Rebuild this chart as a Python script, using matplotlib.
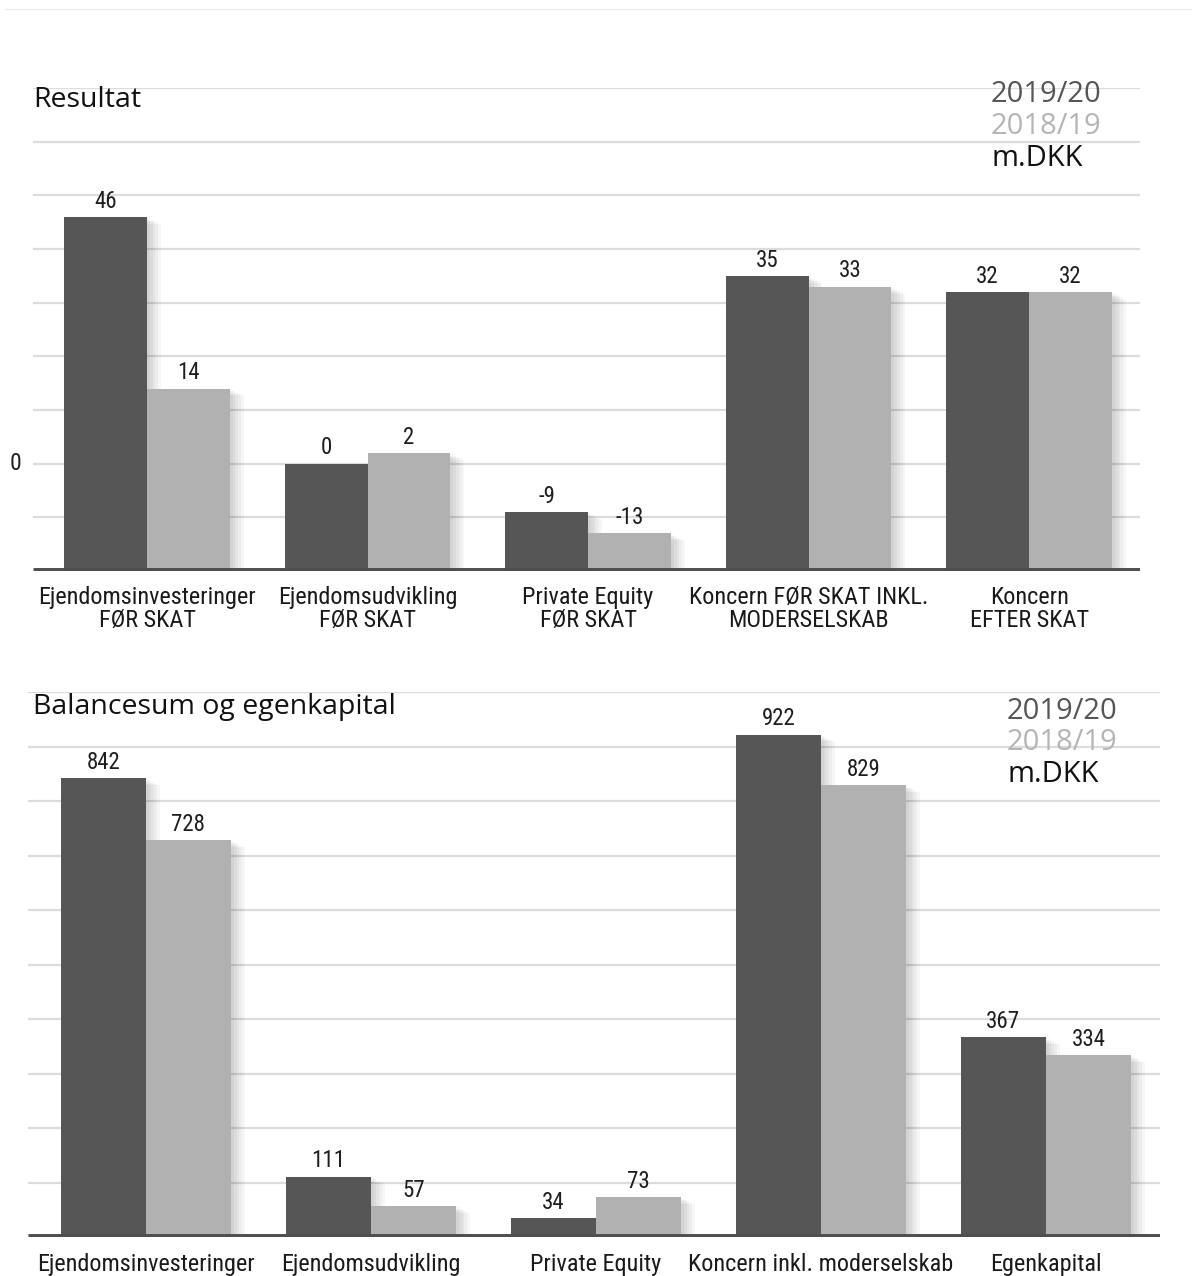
import matplotlib
matplotlib.use("Agg")
import matplotlib.pyplot as plt
from matplotlib import font_manager
import matplotlib.patheffects as pe
from matplotlib.lines import Line2D

# ---------------- data ----------------
top_title = "Resultat"
top_categories = ["Ejendomsinvesteringer\nFØR SKAT", "Ejendomsudvikling\nFØR SKAT",
                  "Private Equity\nFØR SKAT", "Koncern FØR SKAT INKL.\nMODERSELSKAB",
                  "Koncern\nEFTER SKAT"]
top_2019_20 = [46, 0, -9, 35, 32]
top_2018_19 = [14, 2, -13, 33, 32]

bottom_title = "Balancesum og egenkapital"
bottom_categories = ["Ejendomsinvesteringer", "Ejendomsudvikling", "Private Equity",
                     "Koncern inkl. moderselskab", "Egenkapital"]
bottom_2019_20 = [842, 111, 34, 922, 367]
bottom_2018_19 = [728, 57, 73, 829, 334]

legend_labels = ["2019/20", "2018/19", "m.DKK"]

# ---------------- style ----------------
DARK = "#565656"
LIGHT = "#b1b1b1"
GRID = "#dcdcdc"
BASE = "#4f4f4f"

names = {f.name for f in font_manager.fontManager.ttflist}
narrow = None
for cand in ["Roboto Condensed", "Liberation Sans Narrow", "Open Sans Condensed", "DejaVu Sans Condensed"]:
    if cand in names:
        narrow = cand
        break
if narrow is None:
    narrow = "DejaVu Sans"
title_font = "Open Sans" if "Open Sans" in names else "DejaVu Sans"

W, H = 1192, 1276
fig = plt.figure(figsize=(W / 100, H / 100), dpi=100)

def px_axes(x0, x1, ytop, ybot):
    return fig.add_axes([x0 / W, 1 - ybot / H, (x1 - x0) / W, (ybot - ytop) / H])

# thin line at top of the figure
fig.add_artist(Line2D([5 / W, 1.0], [1 - 9 / H, 1 - 9 / H], color="#ececec", lw=1))

shadow = [pe.SimplePatchShadow(offset=(d, -d / 2), shadow_rgbFace="#000000", alpha=0.035)
          for d in (2, 4, 6, 8, 10)] + [pe.Normal()]

def panel(ax, cats, v1, v2, ymin, ymax, step, xlim, width, label_off, cat_y):
    ax.set_xlim(*xlim)
    ax.set_ylim(ymin, ymax)
    for s in ax.spines.values():
        s.set_visible(False)
    ax.set_xticks([])
    ax.set_yticks([])
    y = ymin + step
    while y <= ymax + 1e-9:
        ax.axhline(y, color=GRID, lw=1.6, zorder=0)
        y += step
    xs = list(range(len(cats)))
    b1 = ax.bar([x - width / 2 for x in xs], [v - ymin for v in v1], width=width,
                bottom=ymin, color=DARK, zorder=2)
    b2 = ax.bar([x + width / 2 for x in xs], [v - ymin for v in v2], width=width,
                bottom=ymin, color=LIGHT, zorder=2)
    for r in list(b1) + list(b2):
        r.set_path_effects(shadow)
    for x, a, b in zip(xs, v1, v2):
        ax.text(x - width / 2, a + label_off, str(a), ha="center", va="bottom",
                fontsize=16.5, family=narrow, color="#1e1e1e", zorder=3)
        ax.text(x + width / 2, b + label_off, str(b), ha="center", va="bottom",
                fontsize=16.5, family=narrow, color="#1e1e1e", zorder=3)
    ax.axhline(ymin, color=BASE, lw=5, zorder=4, solid_capstyle="butt")
    for x, c in zip(xs, cats):
        ax.text(x, cat_y, c, transform=ax.get_xaxis_transform(),
                ha="center", va="top", fontsize=17.5, family=narrow,
                color="#1a1a1a", linespacing=0.98)

# ---------- top panel ----------
ax1 = px_axes(33, 1140, 88, 571)
panel(ax1, top_categories, top_2019_20, top_2018_19, -20, 70, 10,
      (-0.517, 4.503), 0.376, 0.8, -0.031)
ax1.text(-0.0154, 0, "0", transform=ax1.get_yaxis_transform(), ha="center", va="center",
         fontsize=17, family=narrow, color="#222222")
fig.text(33 / W, 1 - 100 / H, top_title, fontsize=20.5, family=title_font, va="center",
         ha="left", color="#111111")
fig.text(991 / W, 1 - 94 / H, legend_labels[0], fontsize=21, family=title_font,
         va="center", color=DARK)
fig.text(991 / W, 1 - 126 / H, legend_labels[1], fontsize=21, family=title_font,
         va="center", color="#b5b5b5")
fig.text(991 / W, 1 - 158 / H, legend_labels[2], fontsize=21, family=title_font,
         va="center", color="#111111")

# ---------- bottom panel ----------
ax2 = px_axes(28, 1160, 692, 1237)
panel(ax2, bottom_categories, bottom_2019_20, bottom_2018_19, 0, 1000, 100,
      (-0.524, 4.507), 0.378, 8, -0.03)
fig.text(33 / W, 1 - 707 / H, bottom_title, fontsize=20.5, family=title_font, va="center",
         ha="left", color="#111111")
fig.text(1007 / W, 1 - 711 / H, legend_labels[0], fontsize=21, family=title_font,
         va="center", color=DARK)
fig.text(1007 / W, 1 - 743 / H, legend_labels[1], fontsize=21, family=title_font,
         va="center", color="#b5b5b5")
fig.text(1007 / W, 1 - 775 / H, legend_labels[2], fontsize=21, family=title_font,
         va="center", color="#111111")

fig.savefig("out.png", dpi=100, facecolor="white")
